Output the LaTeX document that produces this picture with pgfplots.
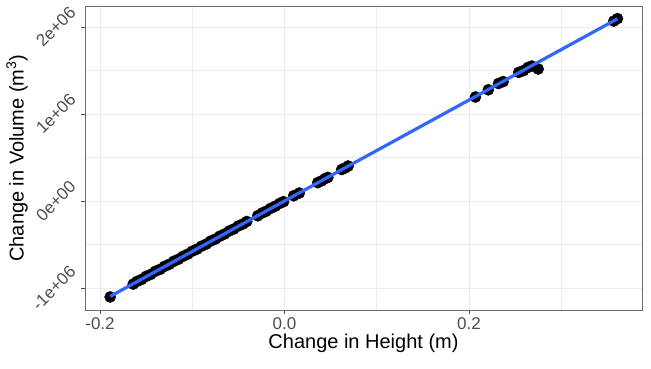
\documentclass[border=0pt]{standalone}
\usepackage{pgfplots}
\pgfplotsset{compat=1.18}
\usepackage{graphicx}
\usepackage{fontspec}
\setmainfont{Liberation Sans}
\definecolor{smoothblue}{HTML}{3366FF}
\definecolor{gridc}{HTML}{EBEBEB}
\definecolor{tickc}{HTML}{4D4D4D}
\begin{document}
\begin{tikzpicture}
\useasboundingbox (-85pt,-58pt) rectangle (566pt,310pt);
\begin{axis}[
  at={(0,0)}, anchor=south west,
  scale only axis, width=557pt, height=304pt,
  xmin=-0.2163, xmax=0.3876,
  ymin=-1.253e6, ymax=2.241e6,
  clip marker paths=true,
  axis line style={draw=gray!85!black, line width=0.6pt},
  tick pos=left, tick align=outside,
  major tick length=3.5pt,
  tick style={tickc, line width=0.6pt},
  minor tick length=0pt,
  xtick={-0.2,0,0.2}, xticklabels={-0.2,0.0,0.2},
  ytick={-1e6,0,1e6,2e6},
  yticklabels={{\rotatebox{45}{-1e+06}},{\rotatebox{45}{0e+00}},{\rotatebox{45}{1e+06}},{\rotatebox{45}{2e+06}}},
  minor xtick={-0.1,0.1,0.3},
  minor ytick={-0.5e6,0.5e6,1.5e6},
  scaled y ticks=false, scaled x ticks=false,
  grid=both,
  major grid style={gridc, line width=0.9pt},
  minor grid style={gridc, line width=0.5pt},
  ticklabel style={font=\fontsize{17}{17}\selectfont, text=tickc},
  xticklabel style={yshift=-1pt},
  yticklabel style={anchor=east, xshift=-1pt},
  xlabel={Change in Height (m)},
  ylabel={Change in Volume (m\textsuperscript{3})},
  label style={font=\fontsize{20}{20}\selectfont},
  xlabel style={yshift=3pt},
  ylabel style={yshift=-4pt},
]
\addplot[only marks, mark=*, mark size=5.6pt, black] table {
x y
-0.189 -1.103e6
-0.164 -0.955e6
-0.160 -0.925e6
-0.155 -0.902e6
-0.150 -0.866e6
-0.145 -0.844e6
-0.140 -0.808e6
-0.135 -0.786e6
-0.130 -0.751e6
-0.125 -0.728e6
-0.120 -0.693e6
-0.115 -0.670e6
-0.110 -0.636e6
-0.105 -0.612e6
-0.100 -0.577e6
-0.095 -0.554e6
-0.090 -0.520e6
-0.085 -0.496e6
-0.080 -0.461e6
-0.075 -0.438e6
-0.070 -0.404e6
-0.065 -0.380e6
-0.060 -0.345e6
-0.055 -0.322e6
-0.050 -0.287e6
-0.045 -0.264e6
-0.041 -0.236e6
-0.029 -0.170e6
-0.024 -0.137e6
-0.020 -0.118e6
-0.015 -0.085e6
-0.010 -0.060e6
-0.005 -0.027e6
-0.001 -0.008e6
0.010 0.060e6
0.016 0.091e6
0.036 0.211e6
0.040 0.230e6
0.044 0.257e6
0.047 0.271e6
0.062 0.362e6
0.066 0.381e6
0.069 0.402e6
0.207 1.195e6
0.221 1.278e6
0.232 1.350e6
0.237 1.372e6
0.254 1.478e6
0.259 1.498e6
0.264 1.535e6
0.268 1.551e6
0.275 1.517e6
0.357 2.068e6
0.361 2.096e6
};
\addplot[smoothblue, line width=3.2pt] table {
x y
-0.189 -1.0962e6
0.361 2.0938e6
};
\end{axis}
\end{tikzpicture}
\end{document}
